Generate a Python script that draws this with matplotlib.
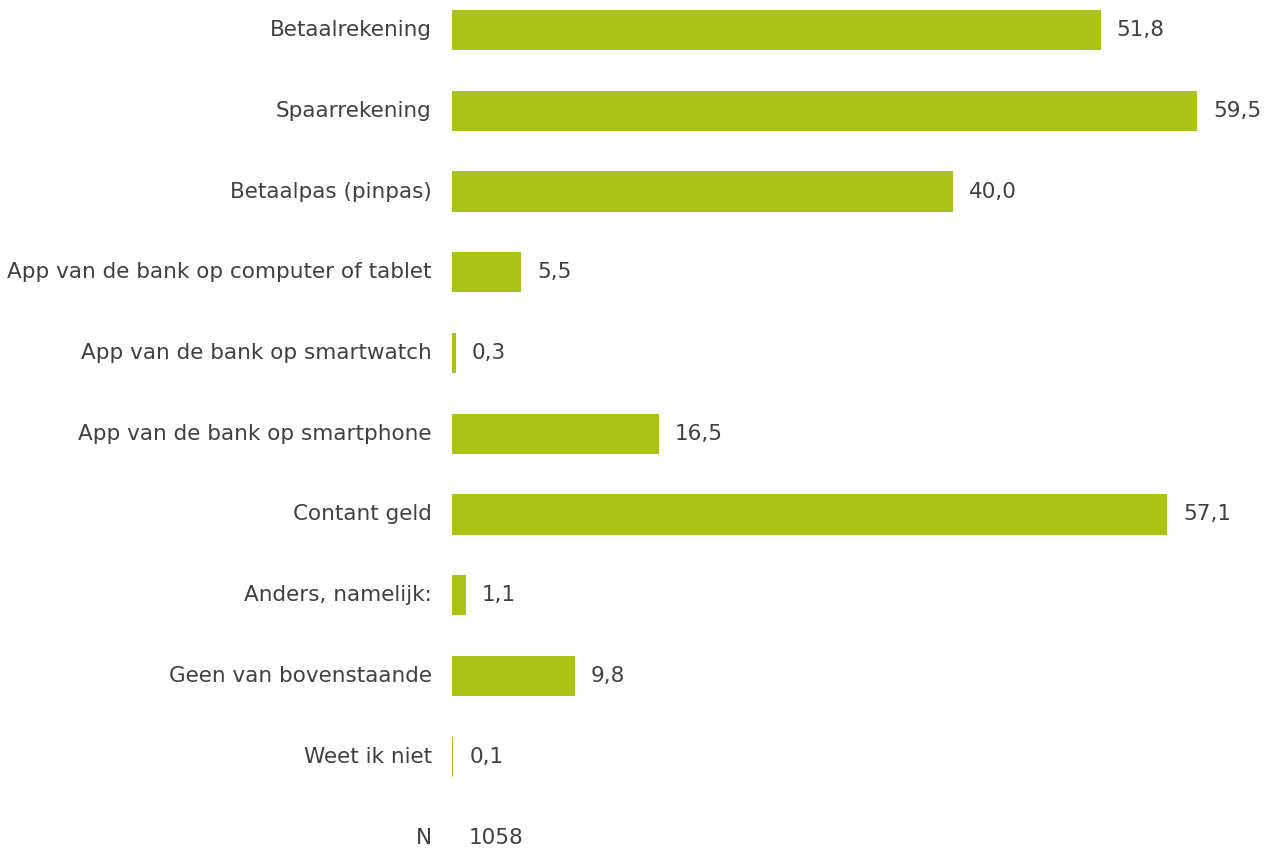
import matplotlib as mpl
mpl.use('Agg')
import matplotlib.pyplot as plt

categories = ['Betaalrekening', 'Spaarrekening', 'Betaalpas (pinpas)',
              'App van de bank op computer of tablet',
              'App van de bank op smartwatch',
              'App van de bank op smartphone', 'Contant geld',
              'Anders, namelijk:', 'Geen van bovenstaande', 'Weet ik niet']
values = [51.8, 59.5, 40.0, 5.5, 0.3, 16.5, 57.1, 1.1, 9.8, 0.1]
n_label = 'N'
n_value = '1058'

bar_color = '#aac316'
text_color = '#404040'
fs = 15.5

fig = plt.figure(figsize=(12.66, 8.48), dpi=100)
ax = fig.add_axes([452 / 1266, 0, 814 / 1266, 1])

pos = list(range(len(categories)))
ax.barh(pos, values, height=0.5, color=bar_color)
ax.set_xlim(0, 65)
ax.set_ylim((848 - 30) / 80.75, -30 / 80.75)

for y, v in zip(pos, values):
    ax.annotate(f'{v:.1f}'.replace('.', ','), (v, y), xytext=(11.5, 0),
                textcoords='offset points', va='center', ha='left',
                fontsize=fs, color=text_color)

labels = categories + [n_label]
for y, lab in enumerate(labels):
    ax.annotate(lab, (0, y), xytext=(-14.5, 0), textcoords='offset points',
                va='center', ha='right', fontsize=fs, color=text_color)
ax.annotate(n_value, (0, len(categories)), xytext=(12, 0),
            textcoords='offset points', va='center', ha='left',
            fontsize=fs, color=text_color)

ax.axis('off')
fig.savefig('out.png', dpi=100)
